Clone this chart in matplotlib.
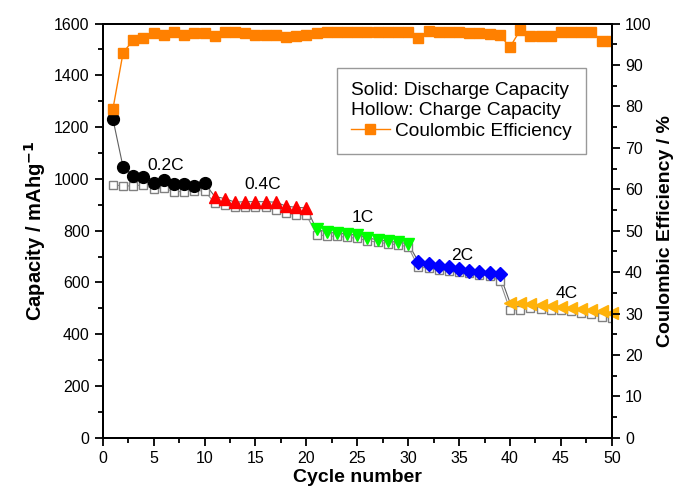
import matplotlib.pyplot as plt
from matplotlib.lines import Line2D

plt.rcParams['font.family'] = ['Liberation Sans', 'DejaVu Sans']

cycles = list(range(1, 51))

# discharge capacity (solid markers), one list per rate
discharge_02c = [1231, 1045, 1013, 1009, 986, 994, 980, 980, 973, 984]
discharge_04c = [932, 924, 910, 912, 912, 912, 910, 895, 890, 888]
discharge_1c = [805, 795, 790, 788, 782, 772, 765, 760, 755, 750]
discharge_2c = [681, 671, 665, 659, 651, 645, 642, 638, 632]
discharge_4c = [522, 520, 517, 514, 510, 505, 501, 497, 492, 488, 481]

# charge capacity (hollow squares)
charge = [977, 973, 973, 977, 961, 964, 951, 951, 954, 954,
          906, 900, 890, 890, 890, 890, 880, 868, 861, 861,
          785, 780, 778, 775, 770, 762, 755, 750, 745, 738,
          660, 655, 650, 645, 640, 635, 630, 625, 606,
          494, 495, 501, 497, 494, 492, 490, 484, 480, 468, 462]

# coulombic efficiency (%)
efficiency = [79.4, 93.0, 96.0, 96.6, 97.6, 97.2, 97.9, 97.2, 97.6, 97.6,
              97.0, 98.0, 98.0, 97.6, 97.2, 97.2, 97.2, 96.8, 97.0, 97.2,
              97.6, 98.0, 97.9, 97.9, 97.9, 98.0, 98.0, 98.0, 98.0, 98.0,
              96.4, 98.3, 98.0, 98.0, 97.9, 97.8, 97.6, 97.4, 97.2,
              94.3, 98.4, 97.0, 97.0, 97.0, 98.0, 98.0, 98.0, 98.0, 95.9, 95.9]

rate_labels = ['0.2C', '0.4C', '1C', '2C', '4C']
rate_label_pos = [(6.2, 1050), (15.7, 980), (25.5, 850), (35.3, 705), (45.6, 558)]

fig = plt.figure(figsize=(6.76, 4.95), dpi=100)
ax = fig.add_axes([0.152, 0.1154, 0.753, 0.8371])
ax2 = ax.twinx()

discharge = discharge_02c + discharge_04c + discharge_1c + discharge_2c + discharge_4c
ax.plot(cycles, discharge, color='#606060', lw=0.8, zorder=2)
ax.plot(cycles, charge, color='#909090', lw=0.8, marker='s', ms=6, mfc='white',
        mec='#808080', mew=1.0, zorder=2)

groups = [(discharge_02c, 'o', 'black', 8.5),
          (discharge_04c, '^', '#FF0000', 9),
          (discharge_1c, 'v', '#00FF00', 9),
          (discharge_2c, 'D', '#0000FF', 7),
          (discharge_4c, '<', '#FFB20A', 9)]
start = 1
for vals, mk, col, ms in groups:
    xs = list(range(start, start + len(vals)))
    ax.plot(xs, vals, ls='none', marker=mk, color=col, ms=ms, zorder=3, clip_on=False)
    start += len(vals)

for lab, (x, y) in zip(rate_labels, rate_label_pos):
    ax.text(x, y, lab, fontsize=12.5, ha='center', va='center')

ax2.plot(cycles, efficiency, color='#FF8000', lw=1.0, marker='s', ms=7,
         mfc='#FF8000', mec='#FF8000', clip_on=True)

ax.set_xlim(0, 50)
ax.set_ylim(0, 1600)
ax2.set_ylim(0, 100)
ax.set_xticks(range(0, 51, 5))
ax.set_xticks([x + 2.5 for x in range(0, 50, 5)], minor=True)
ax.set_yticks(range(0, 1601, 200))
ax.set_yticks(range(100, 1600, 200), minor=True)
ax2.set_yticks(range(0, 101, 10))
ax2.set_yticks(range(5, 100, 10), minor=True)

for a in (ax, ax2):
    a.tick_params(which='major', direction='out', length=6, width=1.3, labelsize=11.5)
    a.tick_params(which='minor', direction='out', length=3.5, width=1.3)
    for s in a.spines.values():
        s.set_linewidth(1.4)

ax.set_xlabel('Cycle number', fontsize=14, fontweight='bold', labelpad=2)
ax.set_ylabel('Capacity / mAhg$^{\\mathbf{-1}}$', fontsize=14.5, fontweight='bold', labelpad=4)
ax2.set_ylabel('Coulombic Efficiency / %', fontsize=14, fontweight='bold', labelpad=4)

handle = Line2D([], [], color='#FF8000', lw=1.0, marker='s', ms=7)
leg = ax2.legend([handle], ['Coulombic Efficiency'],
                 title='Solid: Discharge Capacity\nHollow: Charge Capacity',
                 alignment='left', loc='upper left', bbox_to_anchor=(0.46, 0.893),
                 borderaxespad=0, fontsize=13.8, title_fontsize=13.8, frameon=True,
                 fancybox=False, edgecolor='#808080', handlelength=2.0,
                 handletextpad=0.3, borderpad=0.75, labelspacing=0.2)
leg.get_frame().set_linewidth(1.0)
leg.get_title().set_linespacing(1.2)

fig.savefig('out.png', dpi=100)
